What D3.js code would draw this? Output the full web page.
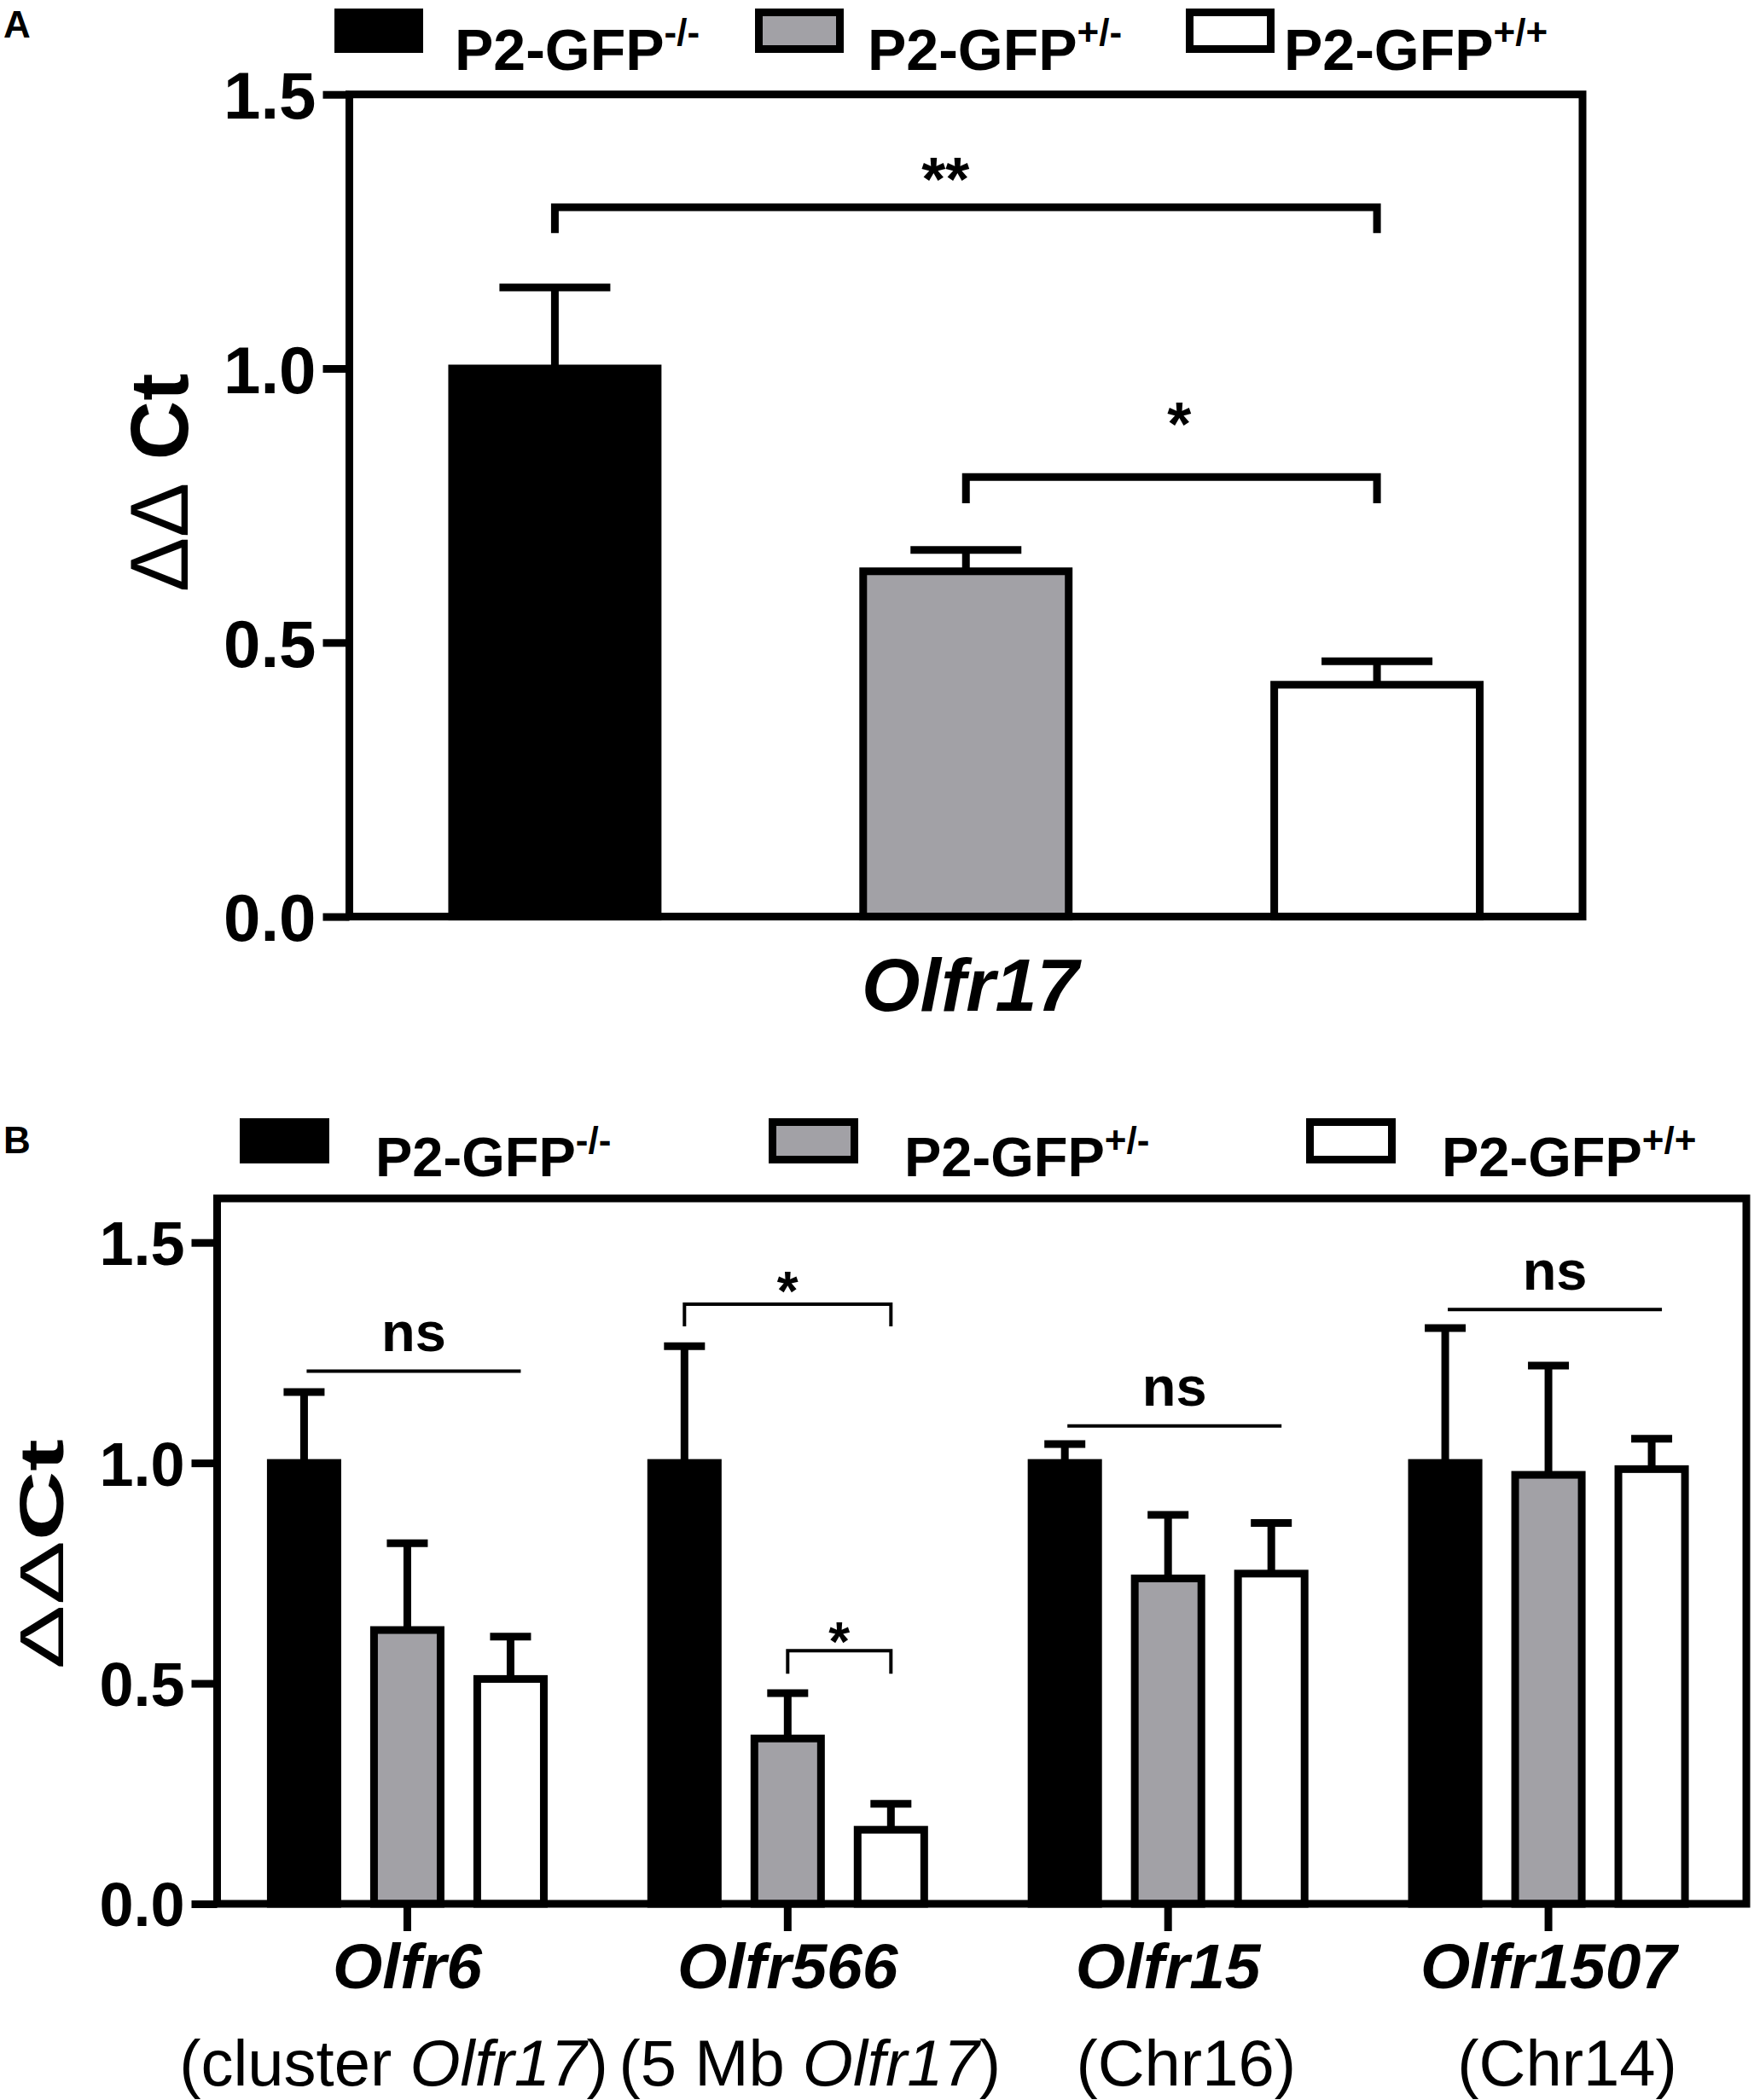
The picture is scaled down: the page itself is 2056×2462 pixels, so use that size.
<!DOCTYPE html>
<html>
<head>
<meta charset="utf-8">
<script src="https://cdn.jsdelivr.net/npm/d3@7"></script>
<style>
  body { margin: 0; background: #fff; }
  text { font-family: "Liberation Sans", Arial, Helvetica, sans-serif; fill: #000; }
</style>
</head>
<body>
<svg id="chart" width="2056" height="2462"></svg>
<script>
// ---- data ----
var genotypes = ["ko", "het", "wt"];
var genotypeBase = "P2-GFP";
var genotypeSup = ["-/-", "+/-", "+/+"];

// panel A (Olfr17)
var geneA = "Olfr17";
var meanA = [1.00, 0.63, 0.423];
var semA = [0.148, 0.039, 0.043];

// panel B
var genesB = ["Olfr6", "Olfr566", "Olfr15", "Olfr1507"];
var notesB = [["(cluster ", "Olfr17", ")"], ["(5 Mb ", "Olfr17", ")"], ["(Chr16)"], ["(Chr14)"]];
var meanB = [[1.00, 0.621, 0.51], [1.00, 0.375, 0.168], [1.00, 0.738, 0.749], [1.00, 0.973, 0.986]];
var semB = [[0.161, 0.197, 0.096], [0.265, 0.103, 0.059], [0.043, 0.144, 0.115], [0.306, 0.248, 0.069]];

var yTicks = [0, 0.5, 1.0, 1.5];

// significance marks (levels in y units)
var sigA = [
    {from: "ko", to: "wt", y: 1.294, drop: 0.047, ly: 1.307, label: "**"},
    {from: "het", to: "wt", y: 0.802, drop: 0.048, ly: 0.860, label: "*"}
];
var sigB = [
    {gene: "Olfr6", from: "ko", to: "wt", y: 1.208, drop: 0, ly: 1.253, label: "ns"},
    {gene: "Olfr566", from: "ko", to: "wt", y: 1.360, drop: 0.05, ly: 1.346, label: "*"},
    {gene: "Olfr566", from: "het", to: "wt", y: 0.574, drop: 0.052, ly: 0.551, label: "*"},
    {gene: "Olfr15", from: "ko", to: "wt", y: 1.084, drop: 0, ly: 1.130, label: "ns"},
    {gene: "Olfr1507", from: "ko", to: "wt", y: 1.348, drop: 0, ly: 1.393, label: "ns"}
];

// ---- style / layout ----
var fills = {ko: "#000000", het: "#a2a1a6", wt: "#ffffff"};
var lw = 9;
var boxA = {left: 409.5, right: 1855, top: 110.7, bottom: 1074.6};
var boxB = {left: 254.5, right: 2047, top: 1405, bottom: 2232};
var noteNudge = [-16, 26, 21, 22];
var sigNudgeA = [-24, 9];

var svg = d3.select("#chart");

// ============ panel A ============
var gA = svg.append("g");

var yA = d3.scaleLinear().domain([0, 1.5]).range([boxA.bottom, boxA.top]);
var xA = d3.scaleBand().domain(genotypes).range([boxA.left, boxA.right])
    .paddingInner(0.5).paddingOuter(0.25);

gA.append("g").selectAll("rect")
    .data(genotypes)
    .join("rect")
    .attr("x", d => xA(d))
    .attr("y", (d, i) => yA(meanA[i]))
    .attr("width", xA.bandwidth())
    .attr("height", (d, i) => yA(0) - yA(meanA[i]))
    .attr("fill", d => fills[d])
    .attr("stroke", "#000")
    .attr("stroke-width", lw);

var errA = gA.append("g").attr("stroke", "#000").attr("stroke-width", lw);
genotypes.forEach(function (d, i) {
    var cx = xA(d) + xA.bandwidth() / 2;
    errA.append("line")
        .attr("x1", cx).attr("x2", cx)
        .attr("y1", yA(meanA[i])).attr("y2", yA(meanA[i] + semA[i]));
    errA.append("line")
        .attr("x1", cx - 65).attr("x2", cx + 65)
        .attr("y1", yA(meanA[i] + semA[i])).attr("y2", yA(meanA[i] + semA[i]));
});

// frame
gA.append("rect")
    .attr("x", boxA.left).attr("y", boxA.top)
    .attr("width", boxA.right - boxA.left).attr("height", boxA.bottom - boxA.top)
    .attr("fill", "none").attr("stroke", "#000").attr("stroke-width", lw);

var axA = gA.append("g")
    .attr("transform", "translate(" + boxA.left + ",0)")
    .call(d3.axisLeft(yA).tickValues(yTicks).tickFormat(d3.format(".1f")).tickSize(31).tickPadding(8));
axA.select(".domain").remove();
axA.selectAll("line").attr("stroke-width", lw);
axA.selectAll("text").attr("font-size", 78).attr("font-weight", "bold")
    .attr("font-family", null).attr("dy", "0.36em");

// significance brackets A
sigA.forEach(function (s, k) {
    var x1 = xA(s.from) + xA.bandwidth() / 2;
    var x2 = xA(s.to) + xA.bandwidth() / 2;
    var yy = yA(s.y), yd = yA(s.y - s.drop);
    gA.append("path")
        .attr("d", "M" + x1 + "," + yd + "V" + yy + "H" + x2 + "V" + yd)
        .attr("fill", "none").attr("stroke", "#000").attr("stroke-width", lw);
    gA.append("text")
        .attr("x", (x1 + x2) / 2 + sigNudgeA[k]).attr("y", yA(s.ly))
        .attr("text-anchor", "middle").attr("font-size", 72).attr("font-weight", "bold")
        .text(s.label);
});

// x label
gA.append("text")
    .attr("x", (boxA.left + boxA.right) / 2 + 5).attr("y", 1185)
    .attr("text-anchor", "middle").attr("font-size", 88)
    .attr("font-weight", "bold").attr("font-style", "italic")
    .text(geneA);

// y title
var ytA = gA.append("text")
    .attr("transform", "translate(220,566) rotate(-90)")
    .attr("text-anchor", "middle").attr("font-size", 96);
ytA.append("tspan").text("\u0394\u0394");
ytA.append("tspan").attr("font-weight", "bold").text(" Ct");

// panel letter
svg.append("text").attr("x", 4).attr("y", 44)
    .attr("font-size", 44).attr("font-weight", "bold").text("A");

// legend A
var legA = {boxX: [392, 885, 1390], textX: [533, 1017, 1505], y: 10, w: 104, h: 52, base: 82};
genotypes.forEach(function (d, i) {
    svg.append("rect")
        .attr("x", legA.boxX[i] + lw / 2).attr("y", legA.y + lw / 2)
        .attr("width", legA.w - lw).attr("height", legA.h - lw)
        .attr("fill", fills[d]).attr("stroke", "#000").attr("stroke-width", lw);
    var t = svg.append("text")
        .attr("x", legA.textX[i]).attr("y", legA.base)
        .attr("font-size", 68).attr("font-weight", "bold");
    t.append("tspan").text(genotypeBase);
    t.append("tspan").attr("font-size", 44).attr("dy", -29).text(genotypeSup[i]);
});

// ============ panel B ============
var gB = svg.append("g");

var yB = d3.scaleLinear().domain([0, 1.6]).range([boxB.bottom, boxB.top]);
var xB = d3.scaleBand().domain(genesB).range([boxB.left, boxB.right - lw]).padding(0);
var xBin = d3.scaleBand().domain(genotypes).range([-181.5, 181.5])
    .paddingInner(0.355).paddingOuter(0.1775);

function barCenter(gene, gt) {
    return xB(gene) + xB.bandwidth() / 2 + xBin(gt) + xBin.bandwidth() / 2;
}

var groupsB = gB.append("g").selectAll("g")
    .data(genesB)
    .join("g")
    .attr("transform", d => "translate(" + (xB(d) + xB.bandwidth() / 2) + ",0)");

groupsB.selectAll("rect")
    .data((d, gi) => genotypes.map((gt, i) => ({gt: gt, v: meanB[gi][i], e: semB[gi][i]})))
    .join("rect")
    .attr("x", d => xBin(d.gt))
    .attr("y", d => yB(d.v))
    .attr("width", xBin.bandwidth())
    .attr("height", d => yB(0) - yB(d.v))
    .attr("fill", d => fills[d.gt])
    .attr("stroke", "#000")
    .attr("stroke-width", lw);

groupsB.each(function (gene, gi) {
    var g = d3.select(this).append("g").attr("stroke", "#000").attr("stroke-width", lw);
    genotypes.forEach(function (gt, i) {
        var cx = xBin(gt) + xBin.bandwidth() / 2;
        var top = meanB[gi][i] + semB[gi][i];
        g.append("line").attr("x1", cx).attr("x2", cx)
            .attr("y1", yB(meanB[gi][i])).attr("y2", yB(top));
        g.append("line").attr("x1", cx - 24).attr("x2", cx + 24)
            .attr("y1", yB(top)).attr("y2", yB(top));
    });
});

gB.append("rect")
    .attr("x", boxB.left).attr("y", boxB.top)
    .attr("width", boxB.right - boxB.left).attr("height", boxB.bottom - boxB.top)
    .attr("fill", "none").attr("stroke", "#000").attr("stroke-width", lw);

var axB = gB.append("g")
    .attr("transform", "translate(" + boxB.left + ",0)")
    .call(d3.axisLeft(yB).tickValues(yTicks).tickFormat(d3.format(".1f")).tickSize(30).tickPadding(8));
axB.select(".domain").remove();
axB.selectAll("line").attr("stroke-width", lw);
axB.selectAll("text").attr("font-size", 72).attr("font-weight", "bold")
    .attr("font-family", null).attr("dy", "0.36em");

var axBx = gB.append("g")
    .attr("transform", "translate(0," + boxB.bottom + ")")
    .call(d3.axisBottom(xB).tickSize(32).tickFormat(""));
axBx.select(".domain").remove();
axBx.selectAll("line").attr("stroke-width", lw);

// x labels B
genesB.forEach(function (gene, i) {
    var cx = xB(gene) + xB.bandwidth() / 2;
    gB.append("text")
        .attr("x", cx).attr("y", 2331)
        .attr("text-anchor", "middle").attr("font-size", 75)
        .attr("font-weight", "bold").attr("font-style", "italic")
        .text(gene);
    var t = gB.append("text")
        .attr("x", cx + noteNudge[i]).attr("y", 2445)
        .attr("text-anchor", "middle").attr("font-size", 76);
    notesB[i].forEach(function (part, k) {
        t.append("tspan").attr("font-style", k === 1 ? "italic" : null).text(part);
    });
});

// significance B
sigB.forEach(function (s) {
    var x1 = barCenter(s.gene, s.from);
    var x2 = barCenter(s.gene, s.to);
    var yy = yB(s.y);
    if (s.drop > 0) {
        var yd = yB(s.y - s.drop);
        gB.append("path")
            .attr("d", "M" + x1 + "," + yd + "V" + yy + "H" + x2 + "V" + yd)
            .attr("fill", "none").attr("stroke", "#000").attr("stroke-width", 4);
    } else {
        x1 += 3; x2 += 12;
        gB.append("line")
            .attr("x1", x1).attr("x2", x2).attr("y1", yy).attr("y2", yy)
            .attr("stroke", "#000").attr("stroke-width", 4);
    }
    gB.append("text")
        .attr("x", (x1 + x2) / 2).attr("y", yB(s.ly))
        .attr("text-anchor", "middle").attr("font-weight", "bold")
        .attr("font-size", s.label === "ns" ? 65 : 64)
        .text(s.label);
});

// y title B
var ytB = gB.append("text")
    .attr("transform", "translate(74,1822) rotate(-90)")
    .attr("text-anchor", "middle").attr("font-size", 72)
    .attr("textLength", 270).attr("lengthAdjust", "spacingAndGlyphs");
ytB.append("tspan").text("\u0394\u0394");
ytB.append("tspan").attr("font-weight", "bold").text("Ct");

svg.append("text").attr("x", 4).attr("y", 1352)
    .attr("font-size", 44).attr("font-weight", "bold").text("B");

// legend B
var legB = {boxX: [281, 901, 1531], textDx: 159, y: 1311, w: 105, h: 53, base: 1379};
genotypes.forEach(function (d, i) {
    svg.append("rect")
        .attr("x", legB.boxX[i] + lw / 2).attr("y", legB.y + lw / 2)
        .attr("width", legB.w - lw).attr("height", legB.h - lw)
        .attr("fill", fills[d]).attr("stroke", "#000").attr("stroke-width", lw);
    var t = svg.append("text")
        .attr("x", legB.boxX[i] + legB.textDx).attr("y", legB.base)
        .attr("font-size", 65).attr("font-weight", "bold");
    t.append("tspan").text(genotypeBase);
    t.append("tspan").attr("font-size", 44).attr("dy", -27).text(genotypeSup[i]);
});
</script>
</body>
</html>
